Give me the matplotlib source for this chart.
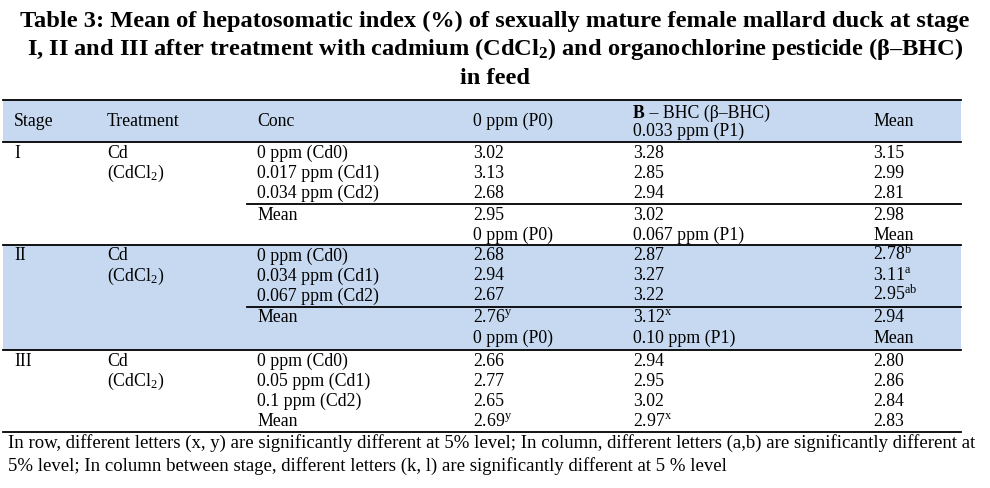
import matplotlib
matplotlib.use("Agg")
import matplotlib.pyplot as plt
from matplotlib.patches import Rectangle

plt.rcParams['font.family'] = ['Liberation Serif', 'DejaVu Serif']
plt.rcParams['mathtext.fontset'] = 'custom'
plt.rcParams['mathtext.rm'] = 'Liberation Serif'
plt.rcParams['mathtext.it'] = 'Liberation Serif:italic'
plt.rcParams['mathtext.bf'] = 'Liberation Serif:bold'

# ---------------- data ----------------
title_lines = [
    "Table 3: Mean of hepatosomatic index (%) of sexually mature female mallard duck at stage",
    "I, II and III after treatment with cadmium (CdCl$_\\mathbf{2}$) and organochlorine pesticide (β–BHC)",
    "in feed",
]
header_cols = ["Stage", "Treatment", "Conc", "0 ppm (P0)", "Mean"]
header_p1_top = ["B", " – BHC (β–BHC)"]
stages = ["I", "II", "III"]
treatment = "Cd"
treatment_salt = "(CdCl$_\\mathrm{2}$)"
conc_labels = [
    ["0 ppm (Cd0)", "0.017 ppm (Cd1)", "0.034 ppm (Cd2)", "Mean"],
    ["0 ppm (Cd0)", "0.034 ppm (Cd1)", "0.067 ppm (Cd2)", "Mean"],
    ["0 ppm (Cd0)", "0.05 ppm (Cd1)", "0.1 ppm (Cd2)", "Mean"],
]
p0_labels = ["0 ppm (P0)", "0 ppm (P0)", "0 ppm (P0)"]
p1_labels = ["0.033 ppm (P1)", "0.067 ppm (P1)", "0.10 ppm (P1)"]
p0_values = [[3.02, 3.13, 2.68, 2.95], [2.68, 2.94, 2.67, 2.76], [2.66, 2.77, 2.65, 2.69]]
p1_values = [[3.28, 2.85, 2.94, 3.02], [2.87, 3.27, 3.22, 3.12], [2.94, 2.95, 3.02, 2.97]]
mean_values = [[3.15, 2.99, 2.81, 2.98], [2.78, 3.11, 2.95, 2.94], [2.80, 2.86, 2.84, 2.83]]
p0_letters = [["", "", "", ""], ["", "", "", "y"], ["", "", "", "y"]]
p1_letters = [["", "", "", ""], ["", "", "", "x"], ["", "", "", "x"]]
mean_letters = [["", "", "", ""], ["b", "a", "ab", ""], ["", "", "", ""]]
footnote = [
    "In row, different letters (x, y) are significantly different at 5% level; In column, different letters (a,b) are significantly different at",
    "5% level; In column between stage, different letters (k, l) are significantly different at 5 % level",
]

# ---------------- layout ----------------
W, H = 990, 488
fig = plt.figure(figsize=(W / 100, H / 100), dpi=100)
ax = fig.add_axes([0, 0, 1, 1])
ax.set_xlim(0, W)
ax.set_ylim(H, 0)
ax.axis('off')

shade = '#C6D9F1'
FS = 12.8
FFS = 13.5
TFS = 17.6
x_left, x_right = 3, 961
col_x = [14, 107, 257, 473, 633, 873]
lw = 1.3

def txt(x, y, s, **kw):
    return ax.text(x, y, s, ha='left', va='baseline', fontsize=kw.pop('fontsize', FS), **kw)

def val(v, letter):
    s = f"{v:.2f}"
    if letter:
        s += "$^\\mathrm{" + letter + "}$"
    return s

# title
for yb, line in zip([27, 55.5, 84], title_lines):
    ax.text(W / 2, yb, line, ha='center', va='baseline', fontsize=TFS, fontweight='bold')

# header
ax.add_patch(Rectangle((x_left, 100), x_right - x_left, 42, facecolor=shade, edgecolor='none'))
ax.plot([x_left, x_right], [100, 100], color='black', lw=lw)
ax.plot([x_left, x_right], [142, 142], color='black', lw=lw)
hy = 125.5
for xi, lab in zip(col_x[:4], header_cols[:4]):
    txt(xi, hy, lab)
txt(col_x[5], hy, header_cols[4])
tb = txt(col_x[4], 117.5, header_p1_top[0], fontweight='bold')
ax.annotate(header_p1_top[1], xy=(1, 0), xycoords=tb, xytext=(0, 0),
            textcoords='offset points', ha='left', va='bottom', fontsize=FS)
txt(col_x[4], 136, p1_labels[0])

# stage blocks
block_top = [142, 245, 350]
block_bot = [245, 350, 432]
for s in range(3):
    top = block_top[s]
    if s == 1:
        ax.add_patch(Rectangle((x_left, top), x_right - x_left, block_bot[s] - top,
                               facecolor=shade, edgecolor='none'))
    ys = [top + 15.5 + 20 * k for k in range(3)]
    txt(col_x[0], ys[0], stages[s])
    txt(col_x[1], ys[0], treatment)
    txt(col_x[1], ys[1], treatment_salt)
    if s < 2:
        line_y = ys[2] + 6.5
        ax.plot([247, x_right], [line_y, line_y], color='black', lw=lw)
        ys.append(ys[2] + 22)
    else:
        ys.append(ys[2] + 20)
    for k in range(4):
        txt(col_x[2], ys[k], conc_labels[s][k])
        txt(col_x[3], ys[k], val(p0_values[s][k], p0_letters[s][k]))
        txt(col_x[4], ys[k], val(p1_values[s][k], p1_letters[s][k]))
        txt(col_x[5], ys[k], val(mean_values[s][k], mean_letters[s][k]))
    if s < 2:
        yh = ys[3] + 20.5
        txt(col_x[3], yh, p0_labels[s + 1])
        txt(col_x[4], yh, p1_labels[s + 1])
        txt(col_x[5], yh, "Mean")
    ax.plot([x_left, x_right], [block_bot[s], block_bot[s]], color='black', lw=lw)

# footnote
for yb, line in zip([448, 471], footnote):
    txt(8, yb, line, fontsize=FFS)

fig.savefig("out.png", dpi=100)
